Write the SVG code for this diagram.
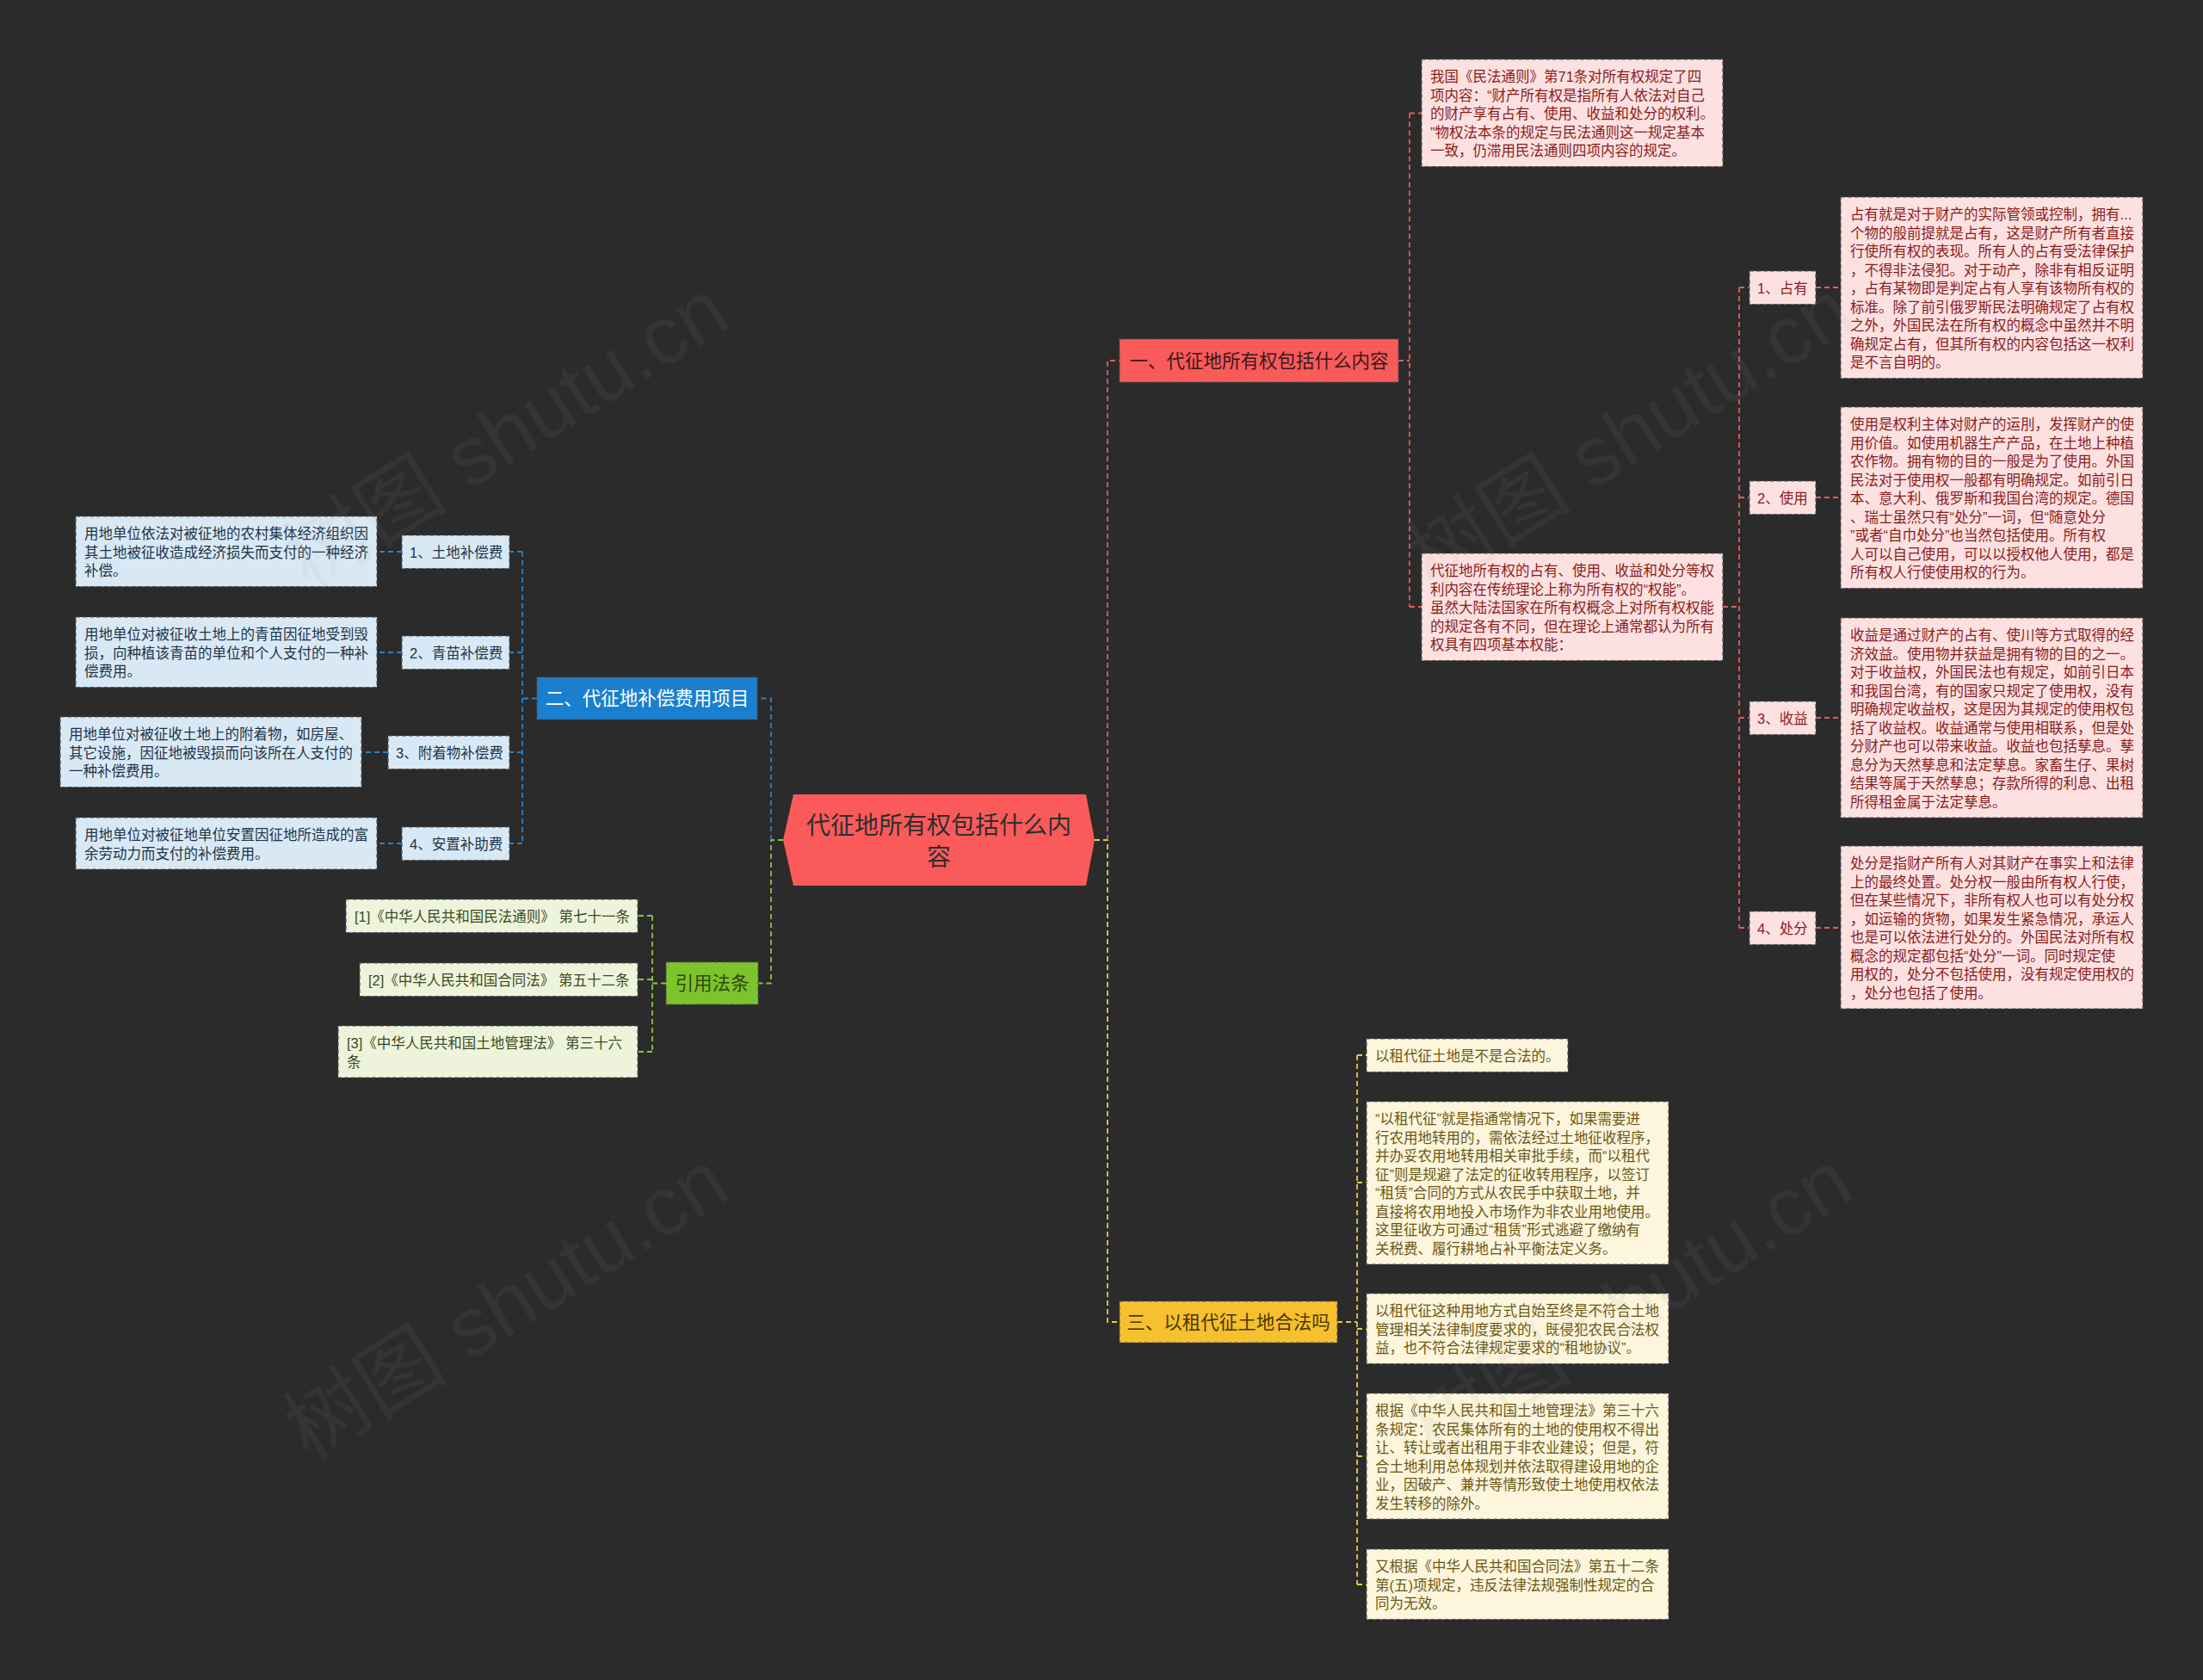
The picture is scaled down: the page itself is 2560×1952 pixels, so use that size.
<svg xmlns="http://www.w3.org/2000/svg" width="2560" height="1952" viewBox="0 0 2560 1952">
<style>
text{font-family:"Liberation Sans","Noto Sans CJK SC",sans-serif;}
.t{font-size:16.5px;}
.bt{font-size:21.5px;}
.box{stroke:#555;stroke-width:1.2;stroke-dasharray:5 3;}
.red{fill:#fde1e1;}
.blu{fill:#d8e9f5;}
.grn{fill:#eef4dc;}
.yel{fill:#fdf5dc;}
.tr{fill:#8a1c1c;}
.tb{fill:#1f3348;}
.tg{fill:#3c4a1c;}
.ty{fill:#6b5715;}
.c{fill:none;stroke-width:1.8;stroke-dasharray:6 4;}
.cr{stroke:#e25c5c;}
.cb{stroke:#2e80c2;}
.cg{stroke:#8cc43c;}
.cy{stroke:#e6c84a;}
.wm{font-size:96px;fill:#9a9a9a;opacity:0.08;}
</style>
<rect width="2560" height="1952" fill="#2b2b2b"/>

<g id="connectors">
  <path class="c cg" d="M910 976 H896 V1142.5 H881"/>
  <path class="c cb" d="M896 976 V811.5 H880"/>
  <path class="c cy" d="M1272 976 H1287 V1536 H1301"/>
  <path class="c cr" d="M1287 976 V419 H1301"/>
  <path class="c cr" d="M1625 419 H1638 M1638 131.5 V705 M1638 131.5 H1652 M1638 705 H1652"/>
  <path class="c cr" d="M2002 705 H2021 M2021 334 V1078 M2021 334 H2033 M2021 578 H2033 M2021 834 H2033 M2021 1078 H2033"/>
  <path class="c cr" d="M2110 334 H2139 M2110 578 H2139 M2110 834 H2139 M2110 1078 H2139"/>
  <path class="c cy" d="M1554 1536 H1577 M1577 1226 V1841 M1577 1226 H1588 M1577 1374 H1588 M1577 1544 H1588 M1577 1692 H1588 M1577 1841 H1588"/>
  <path class="c cb" d="M624 811.5 H607 M607 641 V980 M607 641 H592 M607 758 H592 M607 874 H592 M607 980 H592"/>
  <path class="c cb" d="M467 641 H438 M467 758 H438 M451 874 H420 M467 980 H438"/>
  <path class="c cg" d="M774 1142.5 H758 M758 1064 V1222 M758 1064 H741 M758 1138 H741 M758 1222 H741"/>
</g>

<g id="center">
  <polygon points="910,976 922,923 1262,923 1272,976 1262,1029 922,1029" fill="#fa5a5a"/>
  <text x="1091" y="969" text-anchor="middle" font-size="28" fill="#2e2e2e">代征地所有权包括什么内</text>
  <text x="1091" y="1006" text-anchor="middle" font-size="28" fill="#2e2e2e">容</text>
</g>

<g id="branch1">
  <rect class="box" x="1301" y="394" width="324" height="50" fill="#f95a5a"/>
  <text class="bt" x="1463" y="426.5" text-anchor="middle" fill="#3a1818">一、代征地所有权包括什么内容</text>
</g>
<g id="b1-a">
  <rect class="box red" x="1652" y="69" width="350" height="124.5"/>
  <text class="t tr" x="1662"><tspan x="1662" y="95">我国《民法通则》第71条对所有权规定了四</tspan><tspan x="1662" y="116.5">项内容：“财产所有权是指所有人依法对自己</tspan><tspan x="1662" y="138">的财产享有占有、使用、收益和处分的权利。</tspan><tspan x="1662" y="159.5">”物权法本条的规定与民法通则这一规定基本</tspan><tspan x="1662" y="181">一致，仍滞用民法通则四项内容的规定。</tspan></text>
</g>
<g id="b1-b">
  <rect class="box red" x="1652" y="643" width="350" height="124.5"/>
  <text class="t tr"><tspan x="1662" y="669">代征地所有权的占有、使用、收益和处分等权</tspan><tspan x="1662" y="690.5">利内容在传统理论上称为所有权的“权能”。</tspan><tspan x="1662" y="712">虽然大陆法国家在所有权概念上对所有权权能</tspan><tspan x="1662" y="733.5">的规定各有不同，但在理论上通常都认为所有</tspan><tspan x="1662" y="755">权具有四项基本权能：</tspan></text>
</g>
<g id="l-zhanyou">
  <rect class="box red" x="2033" y="315" width="77" height="38.5"/>
  <text class="t tr" x="2042" y="341">1、占有</text>
</g>
<g id="d-zhanyou">
  <rect class="box red" x="2139" y="229" width="351" height="210.5"/>
  <text class="t tr"><tspan x="2150" y="255">占有就是对于财产的实际管领或控制，拥有...</tspan><tspan x="2150" y="276.5">个物的般前提就是占有，这是财产所有者直接</tspan><tspan x="2150" y="298">行使所有权的表现。所有人的占有受法律保护</tspan><tspan x="2150" y="319.5">，不得非法侵犯。对于动产，除非有相反证明</tspan><tspan x="2150" y="341">，占有某物即是判定占有人享有该物所有权的</tspan><tspan x="2150" y="362.5">标准。除了前引俄罗斯民法明确规定了占有权</tspan><tspan x="2150" y="384">之外，外国民法在所有权的概念中虽然并不明</tspan><tspan x="2150" y="405.5">确规定占有，但其所有权的内容包括这一权利</tspan><tspan x="2150" y="427">是不言自明的。</tspan></text>
</g>
<g id="l-shiyong">
  <rect class="box red" x="2033" y="559" width="77" height="38.5"/>
  <text class="t tr" x="2042" y="585">2、使用</text>
</g>
<g id="d-shiyong">
  <rect class="box red" x="2139" y="473" width="351" height="210.5"/>
  <text class="t tr"><tspan x="2150" y="499">使用是权利主体对财产的运刖，发挥财产的使</tspan><tspan x="2150" y="520.5">用价值。如使用机器生产产品，在土地上种植</tspan><tspan x="2150" y="542">农作物。拥有物的目的一般是为了使用。外国</tspan><tspan x="2150" y="563.5">民法对于使用权一般都有明确规定。如前引日</tspan><tspan x="2150" y="585">本、意大利、俄罗斯和我国台湾的规定。德国</tspan><tspan x="2150" y="606.5">、瑞士虽然只有“处分”一词，但“随意处分</tspan><tspan x="2150" y="628">”或者“自巾处分”也当然包括使用。所有权</tspan><tspan x="2150" y="649.5">人可以自己使用，可以以授权他人使用，都是</tspan><tspan x="2150" y="671">所有权人行使使用权的行为。</tspan></text>
</g>
<g id="l-shouyi">
  <rect class="box red" x="2033" y="815" width="77" height="38.5"/>
  <text class="t tr" x="2042" y="841">3、收益</text>
</g>
<g id="d-shouyi">
  <rect class="box red" x="2139" y="718" width="351" height="232"/>
  <text class="t tr"><tspan x="2150" y="744">收益是通过财产的占有、使川等方式取得的经</tspan><tspan x="2150" y="765.5">济效益。使用物并获益是拥有物的目的之一。</tspan><tspan x="2150" y="787">对于收益权，外国民法也有规定，如前引日本</tspan><tspan x="2150" y="808.5">和我国台湾，有的国家只规定了使用权，没有</tspan><tspan x="2150" y="830">明确规定收益权，这是因为其规定的使用权包</tspan><tspan x="2150" y="851.5">括了收益权。收益通常与使用相联系，但是处</tspan><tspan x="2150" y="873">分财产也可以带来收益。收益也包括孳息。孳</tspan><tspan x="2150" y="894.5">息分为天然孳息和法定孳息。家畜生仔、果树</tspan><tspan x="2150" y="916">结果等属于天然孳息；存款所得的利息、出租</tspan><tspan x="2150" y="937.5">所得租金属于法定孳息。</tspan></text>
</g>
<g id="l-chufen">
  <rect class="box red" x="2033" y="1059" width="77" height="38.5"/>
  <text class="t tr" x="2042" y="1085">4、处分</text>
</g>
<g id="d-chufen">
  <rect class="box red" x="2139" y="983" width="351" height="189"/>
  <text class="t tr"><tspan x="2150" y="1009">处分是指财产所有人对其财产在事实上和法律</tspan><tspan x="2150" y="1030.5">上的最终处置。处分权一般由所有权人行使，</tspan><tspan x="2150" y="1052">但在某些情况下，非所有权人也可以有处分权</tspan><tspan x="2150" y="1073.5">，如运输的货物，如果发生紧急情况，承运人</tspan><tspan x="2150" y="1095">也是可以依法进行处分的。外国民法对所有权</tspan><tspan x="2150" y="1116.5">概念的规定都包括“处分”一词。同时规定使</tspan><tspan x="2150" y="1138">用权的，处分不包括使用，没有规定使用权的</tspan><tspan x="2150" y="1159.5">，处分也包括了使用。</tspan></text>
</g>

<g id="branch3">
  <rect class="box" x="1301" y="1512" width="253" height="48" fill="#f6c02e"/>
  <text class="bt" x="1427.5" y="1543.5" text-anchor="middle" fill="#4a3700">三、以租代征土地合法吗</text>
</g>
<g id="b3-1">
  <rect class="box yel" x="1588" y="1207" width="234" height="38.5"/>
  <text class="t ty" x="1598" y="1233">以租代征土地是不是合法的。</text>
</g>
<g id="b3-2">
  <rect class="box yel" x="1588" y="1280" width="351" height="189"/>
  <text class="t ty"><tspan x="1598" y="1306">“以租代征”就是指通常情况下，如果需要进</tspan><tspan x="1598" y="1327.5">行农用地转用的，需依法经过土地征收程序，</tspan><tspan x="1598" y="1349">并办妥农用地转用相关审批手续，而“以租代</tspan><tspan x="1598" y="1370.5">征”则是规避了法定的征收转用程序，以签订</tspan><tspan x="1598" y="1392">“租赁”合同的方式从农民手中获取土地，并</tspan><tspan x="1598" y="1413.5">直接将农用地投入市场作为非农业用地使用。</tspan><tspan x="1598" y="1435">这里征收方可通过“租赁”形式逃避了缴纳有</tspan><tspan x="1598" y="1456.5">关税费、履行耕地占补平衡法定义务。</tspan></text>
</g>
<g id="b3-3">
  <rect class="box yel" x="1588" y="1503" width="351" height="81.5"/>
  <text class="t ty"><tspan x="1598" y="1529">以租代征这种用地方式自始至终是不符合土地</tspan><tspan x="1598" y="1550.5">管理相关法律制度要求的，既侵犯农民合法权</tspan><tspan x="1598" y="1572">益，也不符合法律规定要求的“租地协议”。</tspan></text>
</g>
<g id="b3-4">
  <rect class="box yel" x="1588" y="1619" width="351" height="146"/>
  <text class="t ty"><tspan x="1598" y="1645">根据《中华人民共和国土地管理法》第三十六</tspan><tspan x="1598" y="1666.5">条规定：农民集体所有的土地的使用权不得出</tspan><tspan x="1598" y="1688">让、转让或者出租用于非农业建设；但是，符</tspan><tspan x="1598" y="1709.5">合土地利用总体规划并依法取得建设用地的企</tspan><tspan x="1598" y="1731">业，因破产、兼并等情形致使土地使用权依法</tspan><tspan x="1598" y="1752.5">发生转移的除外。</tspan></text>
</g>
<g id="b3-5">
  <rect class="box yel" x="1588" y="1800" width="351" height="81.5"/>
  <text class="t ty"><tspan x="1598" y="1826">又根据《中华人民共和国合同法》第五十二条</tspan><tspan x="1598" y="1847.5">第(五)项规定，违反法律法规强制性规定的合</tspan><tspan x="1598" y="1869">同为无效。</tspan></text>
</g>

<g id="branch2">
  <rect class="box" x="624" y="787" width="256" height="49" fill="#1b7fcf"/>
  <text class="bt" x="752" y="819" text-anchor="middle" fill="#ffffff">二、代征地补偿费用项目</text>
</g>
<g id="l-tudi">
  <rect class="box blu" x="467" y="622" width="125" height="38.5"/>
  <text class="t tb" x="476" y="648">1、土地补偿费</text>
</g>
<g id="d-tudi">
  <rect class="box blu" x="88" y="600" width="350" height="81.5"/>
  <text class="t tb"><tspan x="98" y="626">用地单位依法对被征地的农村集体经济组织因</tspan><tspan x="98" y="647.5">其土地被征收造成经济损失而支付的一种经济</tspan><tspan x="98" y="669">补偿。</tspan></text>
</g>
<g id="l-qingmiao">
  <rect class="box blu" x="467" y="739" width="125" height="38.5"/>
  <text class="t tb" x="476" y="765">2、青苗补偿费</text>
</g>
<g id="d-qingmiao">
  <rect class="box blu" x="88" y="717" width="350" height="81.5"/>
  <text class="t tb"><tspan x="98" y="743">用地单位对被征收土地上的青苗因征地受到毁</tspan><tspan x="98" y="764.5">损，向种植该青苗的单位和个人支付的一种补</tspan><tspan x="98" y="786">偿费用。</tspan></text>
</g>
<g id="l-fuzhuo">
  <rect class="box blu" x="451" y="855" width="141" height="38.5"/>
  <text class="t tb" x="460" y="881">3、附着物补偿费</text>
</g>
<g id="d-fuzhuo">
  <rect class="box blu" x="70" y="833" width="350" height="81.5"/>
  <text class="t tb"><tspan x="80" y="859">用地单位对被征收土地上的附着物，如房屋、</tspan><tspan x="80" y="880.5">其它设施，因征地被毁损而向该所在人支付的</tspan><tspan x="80" y="902">一种补偿费用。</tspan></text>
</g>
<g id="l-anzhi">
  <rect class="box blu" x="467" y="961" width="125" height="38.5"/>
  <text class="t tb" x="476" y="987">4、安置补助费</text>
</g>
<g id="d-anzhi">
  <rect class="box blu" x="88" y="950" width="350" height="60"/>
  <text class="t tb"><tspan x="98" y="976">用地单位对被征地单位安置因征地所造成的富</tspan><tspan x="98" y="997.5">余劳动力而支付的补偿费用。</tspan></text>
</g>

<g id="branch4">
  <rect class="box" x="774" y="1118" width="107" height="49" fill="#7cc42b"/>
  <text class="bt" x="827.5" y="1150" text-anchor="middle" fill="#2f4a10">引用法条</text>
</g>
<g id="cit1">
  <rect class="box grn" x="402" y="1045" width="339" height="38.5"/>
  <text class="t tg" x="412" y="1071">[1]《中华人民共和国民法通则》 第七十一条</text>
</g>
<g id="cit2">
  <rect class="box grn" x="418" y="1119" width="323" height="38.5"/>
  <text class="t tg" x="428" y="1145">[2]《中华人民共和国合同法》 第五十二条</text>
</g>
<g id="cit3">
  <rect class="box grn" x="393" y="1192" width="348" height="60"/>
  <text class="t tg"><tspan x="403" y="1218">[3]《中华人民共和国土地管理法》 第三十六</tspan><tspan x="403" y="1239.5">条</tspan></text>
</g>

<g id="watermark">
  <text class="wm" transform="translate(359,686) rotate(-32)">树图 shutu.cn</text>
  <text class="wm" transform="translate(1665,686) rotate(-32)">树图 shutu.cn</text>
  <text class="wm" transform="translate(359,1698) rotate(-32)">树图 shutu.cn</text>
  <text class="wm" transform="translate(1665,1698) rotate(-32)">树图 shutu.cn</text>
</g>
</svg>
